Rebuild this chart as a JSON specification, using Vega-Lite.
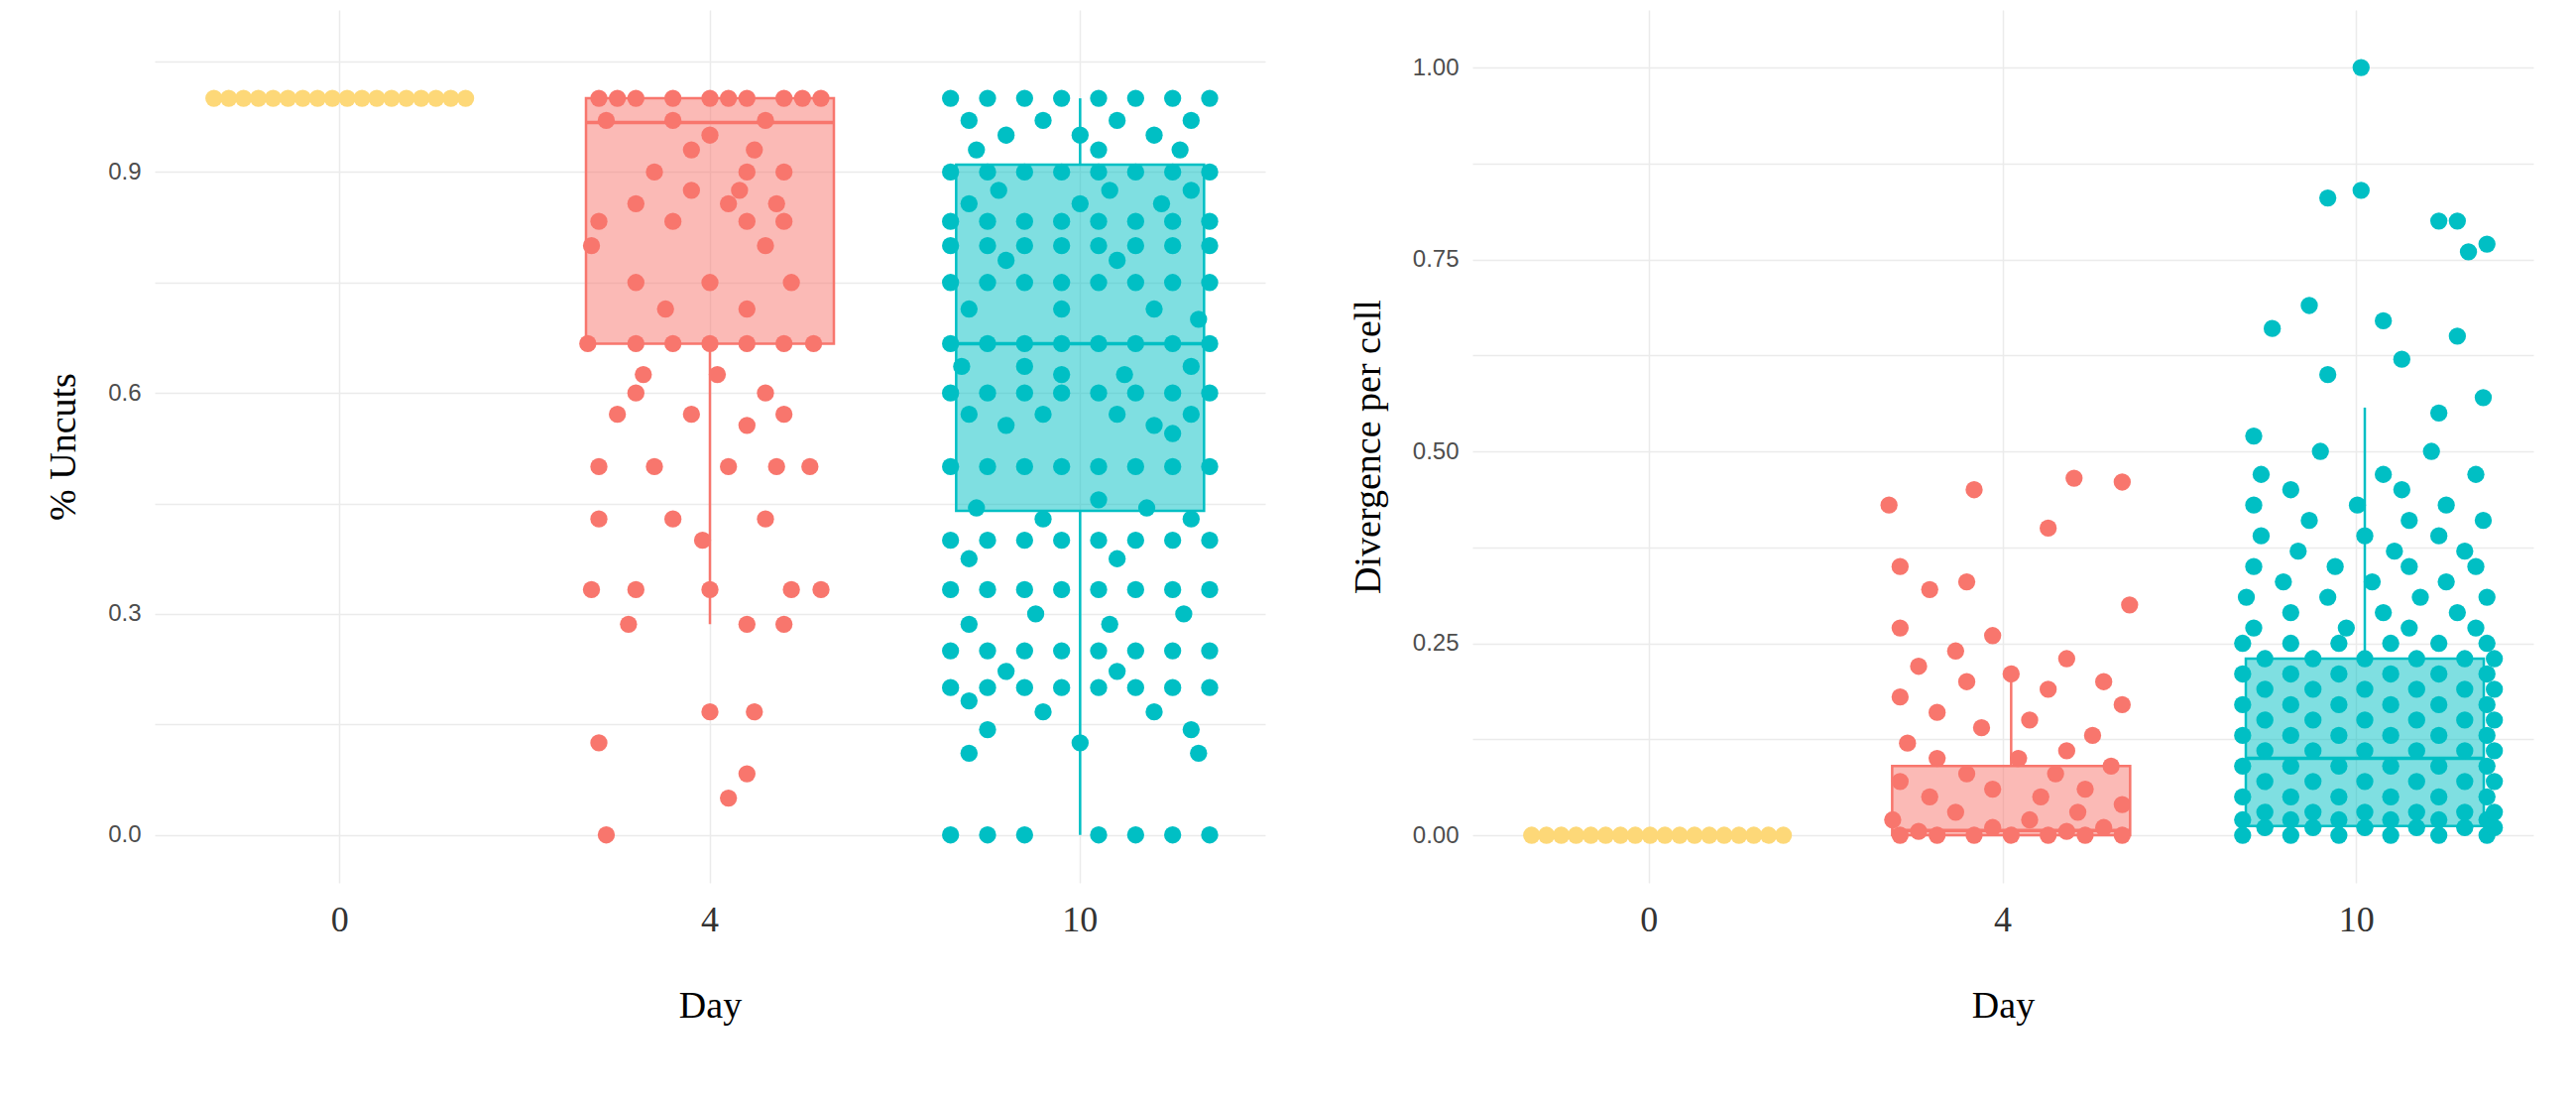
{
  "$schema": "https://vega.github.io/schema/vega-lite/v6.json",
  "background": "white",
  "padding": {"left": 45, "top": 10, "right": 20, "bottom": 10},
  "spacing": 85,
  "config": {
    "view": {"stroke": null},
    "axis": {"gridColor": "#EBEBEB", "gridWidth": 1.5, "domain": false, "ticks": false, "labelColor": "#4D4D4D"},
    "axisX": {"grid": true, "labelFont": "Liberation Serif", "labelFontSize": 36, "labelColor": "#333", "titleFont": "Liberation Serif", "titleFontSize": 38, "titleFontWeight": "normal", "titlePadding": 50, "labelPadding": 20, "labelAngle": 0, "bandPosition": 0.5},
    "axisY": {"labelFont": "Liberation Sans", "labelFontSize": 24, "titleFont": "Liberation Serif", "titleFontSize": 38, "titleFontWeight": "normal", "titlePadding": 25, "labelPadding": 14}
  },
  "hconcat": [
    {
      "width": 1120,
      "height": 880,
      "encoding": {
        "x": {"field": "d", "type": "nominal", "title": "Day", "scale": {"domain": ["0", "4", "10"], "paddingInner": 0, "paddingOuter": 0}},
        "color": {"field": "d", "type": "nominal", "legend": null, "scale": {"domain": ["0", "4", "10"], "range": ["#FDD878", "#F8766D", "#00BFC4"]}},
        "stroke": {"field": "d", "type": "nominal", "legend": null, "scale": {"domain": ["0", "4", "10"], "range": ["#FDD878", "#F8766D", "#00BFC4"]}}
      },
      "layer": [
        {
          "data": {"values": "d,lo,q1,med,q3,hi\n4,0.286,0.667,0.967,1,1\n10,0,0.44,0.667,0.91,1", "format": {"type": "csv", "parse": {"lo": "number", "q1": "number", "med": "number", "q3": "number", "hi": "number"}}},
          "layer": [
            {"mark": {"type": "rule", "strokeWidth": 2.5}, "encoding": {"xOffset": {"datum": 0}, "y": {"field": "lo", "type": "quantitative", "title": "% Uncuts", "scale": {"domain": [-0.065, 1.12], "nice": false, "zero": false}, "axis": {"values": [0, 0.15, 0.3, 0.45, 0.6, 0.75, 0.9, 1.05], "labelExpr": "datum.value == 0 || datum.value == 0.3 || datum.value == 0.6 || datum.value == 0.9 ? format(datum.value, '.1f') : ''"}}, "y2": {"field": "q1"}}},
            {"mark": {"type": "rule", "strokeWidth": 2.5}, "encoding": {"xOffset": {"datum": 0}, "y": {"field": "q3", "type": "quantitative"}, "y2": {"field": "hi"}}},
            {"mark": {"type": "bar", "width": 250, "fillOpacity": 0.5, "strokeWidth": 2.5}, "encoding": {"xOffset": {"datum": 0}, "y": {"field": "q1", "type": "quantitative"}, "y2": {"field": "q3"}}},
            {"mark": {"type": "bar", "width": 250, "strokeWidth": 3.5}, "encoding": {"xOffset": {"datum": 0}, "y": {"field": "med", "type": "quantitative"}, "y2": {"field": "med"}}}
          ]
        },
        {
          "data": {"values": "d,y,j\n0,1,-0.34\n0,1,-0.3\n0,1,-0.26\n0,1,-0.22\n0,1,-0.18\n0,1,-0.14\n0,1,-0.1\n0,1,-0.06\n0,1,-0.02\n0,1,0.02\n0,1,0.06\n0,1,0.1\n0,1,0.14\n0,1,0.18\n0,1,0.22\n0,1,0.26\n0,1,0.3\n0,1,0.34\n4,1,-0.3\n4,1,-0.2\n4,1,-0.1\n4,1,0\n4,1,0.1\n4,1,0.2\n4,1,0.3\n4,1,-0.25\n4,1,0.05\n4,1,0.25\n4,0.97,-0.28\n4,0.97,-0.1\n4,0.97,0.15\n4,0.95,0\n4,0.93,-0.05\n4,0.93,0.12\n4,0.9,-0.15\n4,0.9,0.1\n4,0.9,0.2\n4,0.875,-0.05\n4,0.875,0.08\n4,0.857,-0.2\n4,0.857,0.05\n4,0.857,0.18\n4,0.833,-0.3\n4,0.833,-0.1\n4,0.833,0.1\n4,0.833,0.2\n4,0.8,-0.32\n4,0.8,0.15\n4,0.75,-0.2\n4,0.75,0\n4,0.75,0.22\n4,0.714,-0.12\n4,0.714,0.1\n4,0.667,-0.33\n4,0.667,-0.2\n4,0.667,-0.1\n4,0.667,0\n4,0.667,0.1\n4,0.667,0.2\n4,0.667,0.28\n4,0.625,-0.18\n4,0.625,0.02\n4,0.6,-0.2\n4,0.6,0.15\n4,0.571,-0.25\n4,0.571,-0.05\n4,0.571,0.2\n4,0.556,0.1\n4,0.5,-0.3\n4,0.5,-0.15\n4,0.5,0.05\n4,0.5,0.18\n4,0.5,0.27\n4,0.429,-0.3\n4,0.429,-0.1\n4,0.429,0.15\n4,0.4,-0.02\n4,0.333,-0.32\n4,0.333,-0.2\n4,0.333,0\n4,0.333,0.22\n4,0.333,0.3\n4,0.286,-0.22\n4,0.286,0.1\n4,0.286,0.2\n4,0.167,0\n4,0.167,0.12\n4,0.125,-0.3\n4,0.083,0.1\n4,0.05,0.05\n4,0,-0.28\n10,1,-0.35\n10,1,-0.25\n10,1,-0.15\n10,1,-0.05\n10,1,0.05\n10,1,0.15\n10,1,0.25\n10,1,0.35\n10,0.97,-0.3\n10,0.97,-0.1\n10,0.97,0.1\n10,0.97,0.3\n10,0.95,-0.2\n10,0.95,0\n10,0.95,0.2\n10,0.93,-0.28\n10,0.93,0.05\n10,0.93,0.27\n10,0.9,-0.35\n10,0.9,-0.25\n10,0.9,-0.15\n10,0.9,-0.05\n10,0.9,0.05\n10,0.9,0.15\n10,0.9,0.25\n10,0.9,0.35\n10,0.875,-0.22\n10,0.875,0.08\n10,0.875,0.3\n10,0.857,-0.3\n10,0.857,0\n10,0.857,0.22\n10,0.833,-0.35\n10,0.833,-0.25\n10,0.833,-0.15\n10,0.833,-0.05\n10,0.833,0.05\n10,0.833,0.15\n10,0.833,0.25\n10,0.833,0.35\n10,0.8,-0.35\n10,0.8,-0.25\n10,0.8,-0.15\n10,0.8,-0.05\n10,0.8,0.05\n10,0.8,0.15\n10,0.8,0.25\n10,0.8,0.35\n10,0.78,-0.2\n10,0.78,0.1\n10,0.75,-0.35\n10,0.75,-0.25\n10,0.75,-0.15\n10,0.75,-0.05\n10,0.75,0.05\n10,0.75,0.15\n10,0.75,0.25\n10,0.75,0.35\n10,0.714,-0.3\n10,0.714,-0.05\n10,0.714,0.2\n10,0.7,0.32\n10,0.667,-0.35\n10,0.667,-0.25\n10,0.667,-0.15\n10,0.667,-0.05\n10,0.667,0.05\n10,0.667,0.15\n10,0.667,0.25\n10,0.667,0.35\n10,0.636,-0.32\n10,0.636,-0.15\n10,0.636,0.3\n10,0.625,-0.05\n10,0.625,0.12\n10,0.6,-0.35\n10,0.6,-0.25\n10,0.6,-0.15\n10,0.6,-0.05\n10,0.6,0.05\n10,0.6,0.15\n10,0.6,0.25\n10,0.6,0.35\n10,0.571,-0.3\n10,0.571,-0.1\n10,0.571,0.1\n10,0.571,0.3\n10,0.556,-0.2\n10,0.556,0.2\n10,0.545,0.25\n10,0.5,-0.35\n10,0.5,-0.25\n10,0.5,-0.15\n10,0.5,-0.05\n10,0.5,0.05\n10,0.5,0.15\n10,0.5,0.25\n10,0.5,0.35\n10,0.455,0.05\n10,0.444,-0.28\n10,0.444,0.18\n10,0.429,-0.1\n10,0.429,0.3\n10,0.4,-0.35\n10,0.4,-0.25\n10,0.4,-0.15\n10,0.4,-0.05\n10,0.4,0.05\n10,0.4,0.15\n10,0.4,0.25\n10,0.4,0.35\n10,0.375,-0.3\n10,0.375,0.1\n10,0.333,-0.35\n10,0.333,-0.25\n10,0.333,-0.15\n10,0.333,-0.05\n10,0.333,0.05\n10,0.333,0.15\n10,0.333,0.25\n10,0.333,0.35\n10,0.3,-0.12\n10,0.3,0.28\n10,0.286,-0.3\n10,0.286,0.08\n10,0.25,-0.35\n10,0.25,-0.25\n10,0.25,-0.15\n10,0.25,-0.05\n10,0.25,0.05\n10,0.25,0.15\n10,0.25,0.25\n10,0.25,0.35\n10,0.222,-0.2\n10,0.222,0.1\n10,0.2,-0.35\n10,0.2,-0.25\n10,0.2,-0.15\n10,0.2,-0.05\n10,0.2,0.05\n10,0.2,0.15\n10,0.2,0.25\n10,0.2,0.35\n10,0.182,-0.3\n10,0.167,-0.1\n10,0.167,0.2\n10,0.143,-0.25\n10,0.143,0.3\n10,0.125,0\n10,0.111,-0.3\n10,0.111,0.32\n10,0,-0.35\n10,0,-0.25\n10,0,-0.15\n10,0,0.05\n10,0,0.15\n10,0,0.25\n10,0,0.35", "format": {"type": "csv", "parse": {"y": "number", "j": "number"}}},
          "mark": {"type": "circle", "size": 300, "opacity": 1, "strokeWidth": 0},
          "encoding": {
            "y": {"field": "y", "type": "quantitative"},
            "xOffset": {"field": "j", "type": "quantitative", "scale": {"domain": [-0.5, 0.5]}}
          }
        }
      ]
    },
    {
      "width": 1070,
      "height": 880,
      "encoding": {
        "x": {"field": "d", "type": "nominal", "title": "Day", "scale": {"domain": ["0", "4", "10"], "paddingInner": 0, "paddingOuter": 0}},
        "color": {"field": "d", "type": "nominal", "legend": null, "scale": {"domain": ["0", "4", "10"], "range": ["#FDD878", "#F8766D", "#00BFC4"]}},
        "stroke": {"field": "d", "type": "nominal", "legend": null, "scale": {"domain": ["0", "4", "10"], "range": ["#FDD878", "#F8766D", "#00BFC4"]}}
      },
      "layer": [
        {
          "data": {"values": "d,lo,q1,med,q3,hi\n4,0,0,0.006,0.09,0.22\n10,0,0.012,0.1,0.23,0.557", "format": {"type": "csv", "parse": {"lo": "number", "q1": "number", "med": "number", "q3": "number", "hi": "number"}}},
          "layer": [
            {"mark": {"type": "rule", "strokeWidth": 2.5}, "encoding": {"xOffset": {"datum": 0}, "y": {"field": "lo", "type": "quantitative", "title": "Divergence per cell", "scale": {"domain": [-0.062, 1.075], "nice": false, "zero": false}, "axis": {"values": [0, 0.125, 0.25, 0.375, 0.5, 0.625, 0.75, 0.875, 1], "labelExpr": "datum.value == 0 || datum.value == 0.25 || datum.value == 0.5 || datum.value == 0.75 || datum.value == 1 ? format(datum.value, '.2f') : ''"}}, "y2": {"field": "q1"}}},
            {"mark": {"type": "rule", "strokeWidth": 2.5}, "encoding": {"xOffset": {"datum": 0}, "y": {"field": "q3", "type": "quantitative"}, "y2": {"field": "hi"}}},
            {"mark": {"type": "bar", "width": 240, "fillOpacity": 0.5, "strokeWidth": 2.5}, "encoding": {"xOffset": {"datum": 0}, "y": {"field": "q1", "type": "quantitative"}, "y2": {"field": "q3"}}},
            {"mark": {"type": "bar", "width": 240, "strokeWidth": 3.5}, "encoding": {"xOffset": {"datum": 0}, "y": {"field": "med", "type": "quantitative"}, "y2": {"field": "med"}}}
          ]
        },
        {
          "data": {"values": "d,y,j\n0,0,-0.34\n0,0,-0.3\n0,0,-0.26\n0,0,-0.22\n0,0,-0.18\n0,0,-0.14\n0,0,-0.1\n0,0,-0.06\n0,0,-0.02\n0,0,0.02\n0,0,0.06\n0,0,0.1\n0,0,0.14\n0,0,0.18\n0,0,0.22\n0,0,0.26\n0,0,0.3\n0,0,0.34\n4,0,-0.3\n4,0,-0.2\n4,0,-0.1\n4,0,0\n4,0,0.1\n4,0,0.2\n4,0,0.3\n4,0.005,-0.25\n4,0.005,0.15\n4,0.01,-0.05\n4,0.01,0.25\n4,0.02,-0.32\n4,0.02,0.05\n4,0.03,0.18\n4,0.03,-0.15\n4,0.04,0.3\n4,0.05,-0.22\n4,0.05,0.08\n4,0.06,-0.05\n4,0.06,0.2\n4,0.07,-0.3\n4,0.08,0.12\n4,0.08,-0.12\n4,0.09,0.27\n4,0.1,-0.2\n4,0.1,0.02\n4,0.11,0.15\n4,0.12,-0.28\n4,0.13,0.22\n4,0.14,-0.08\n4,0.15,0.05\n4,0.16,-0.2\n4,0.17,0.3\n4,0.18,-0.3\n4,0.19,0.1\n4,0.2,-0.12\n4,0.2,0.25\n4,0.21,0\n4,0.22,-0.25\n4,0.23,0.15\n4,0.24,-0.15\n4,0.26,-0.05\n4,0.27,-0.3\n4,0.3,0.32\n4,0.32,-0.22\n4,0.33,-0.12\n4,0.35,-0.3\n4,0.4,0.1\n4,0.43,-0.33\n4,0.45,-0.1\n4,0.46,0.3\n4,0.465,0.17\n10,0,-0.33\n10,0,-0.2\n10,0,-0.07\n10,0,0.07\n10,0,0.2\n10,0,0.33\n10,0.01,-0.27\n10,0.01,-0.14\n10,0.01,0\n10,0.01,0.14\n10,0.01,0.27\n10,0.01,0.35\n10,0.02,-0.33\n10,0.02,-0.2\n10,0.02,-0.07\n10,0.02,0.07\n10,0.02,0.2\n10,0.02,0.33\n10,0.03,-0.27\n10,0.03,-0.14\n10,0.03,0\n10,0.03,0.14\n10,0.03,0.27\n10,0.03,0.35\n10,0.05,-0.33\n10,0.05,-0.2\n10,0.05,-0.07\n10,0.05,0.07\n10,0.05,0.2\n10,0.05,0.33\n10,0.07,-0.27\n10,0.07,-0.14\n10,0.07,0\n10,0.07,0.14\n10,0.07,0.27\n10,0.07,0.35\n10,0.09,-0.33\n10,0.09,-0.2\n10,0.09,-0.07\n10,0.09,0.07\n10,0.09,0.2\n10,0.09,0.33\n10,0.11,-0.27\n10,0.11,-0.14\n10,0.11,0\n10,0.11,0.14\n10,0.11,0.27\n10,0.11,0.35\n10,0.13,-0.33\n10,0.13,-0.2\n10,0.13,-0.07\n10,0.13,0.07\n10,0.13,0.2\n10,0.13,0.33\n10,0.15,-0.27\n10,0.15,-0.14\n10,0.15,0\n10,0.15,0.14\n10,0.15,0.27\n10,0.15,0.35\n10,0.17,-0.33\n10,0.17,-0.2\n10,0.17,-0.07\n10,0.17,0.07\n10,0.17,0.2\n10,0.17,0.33\n10,0.19,-0.27\n10,0.19,-0.14\n10,0.19,0\n10,0.19,0.14\n10,0.19,0.27\n10,0.19,0.35\n10,0.21,-0.33\n10,0.21,-0.2\n10,0.21,-0.07\n10,0.21,0.07\n10,0.21,0.2\n10,0.21,0.33\n10,0.23,-0.27\n10,0.23,-0.14\n10,0.23,0\n10,0.23,0.14\n10,0.23,0.27\n10,0.23,0.35\n10,0.25,-0.33\n10,0.25,-0.2\n10,0.25,-0.07\n10,0.25,0.07\n10,0.25,0.2\n10,0.25,0.33\n10,0.27,-0.3\n10,0.27,-0.05\n10,0.27,0.12\n10,0.27,0.3\n10,0.29,-0.2\n10,0.29,0.05\n10,0.29,0.25\n10,0.31,-0.32\n10,0.31,-0.1\n10,0.31,0.15\n10,0.31,0.33\n10,0.33,-0.22\n10,0.33,0.02\n10,0.33,0.22\n10,0.35,-0.3\n10,0.35,-0.08\n10,0.35,0.12\n10,0.35,0.3\n10,0.37,-0.18\n10,0.37,0.08\n10,0.37,0.27\n10,0.39,-0.28\n10,0.39,0\n10,0.39,0.2\n10,0.41,-0.15\n10,0.41,0.12\n10,0.41,0.32\n10,0.43,-0.3\n10,0.43,-0.02\n10,0.43,0.22\n10,0.45,-0.2\n10,0.45,0.1\n10,0.47,-0.28\n10,0.47,0.05\n10,0.47,0.3\n10,0.5,-0.12\n10,0.5,0.18\n10,0.52,-0.3\n10,0.55,0.2\n10,0.57,0.32\n10,0.6,-0.1\n10,0.62,0.1\n10,0.65,0.25\n10,0.66,-0.25\n10,0.69,-0.15\n10,0.67,0.05\n10,0.76,0.28\n10,0.8,0.2\n10,0.83,-0.1\n10,0.84,-0.01\n10,0.8,0.25\n10,0.77,0.33\n10,1,-0.01", "format": {"type": "csv", "parse": {"y": "number", "j": "number"}}},
          "mark": {"type": "circle", "size": 300, "opacity": 1, "strokeWidth": 0},
          "encoding": {
            "y": {"field": "y", "type": "quantitative"},
            "xOffset": {"field": "j", "type": "quantitative", "scale": {"domain": [-0.5, 0.5]}}
          }
        }
      ]
    }
  ]
}
